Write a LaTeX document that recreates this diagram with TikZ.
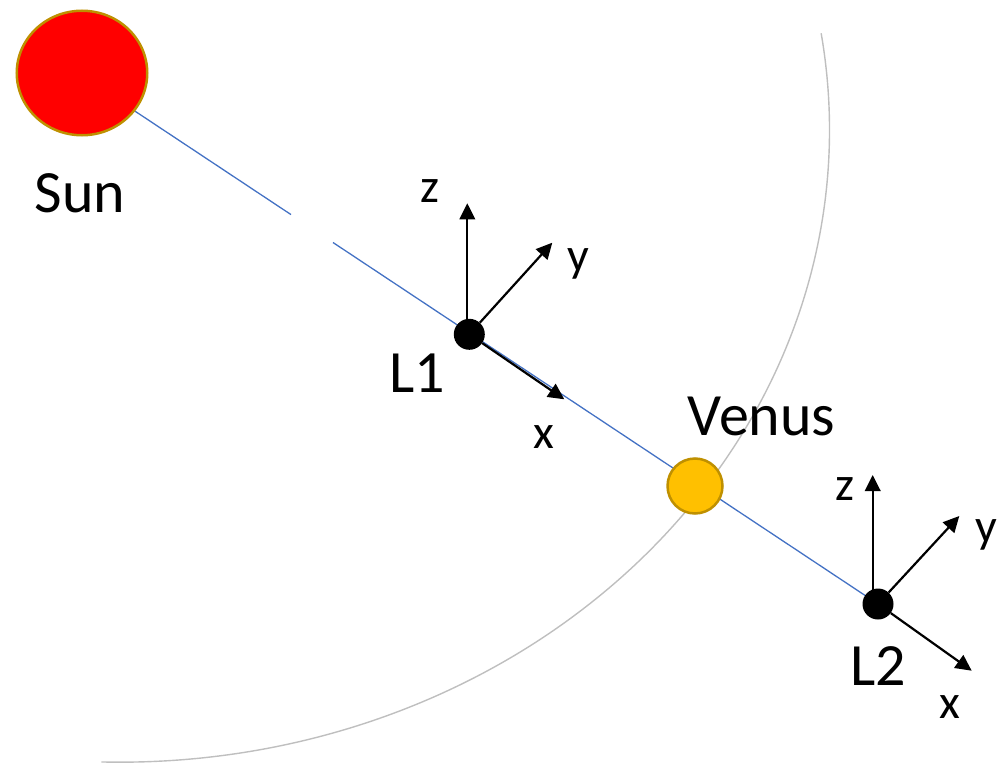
\documentclass[tikz,border=0pt]{standalone}
\usepackage{fontspec}
\setmainfont{Carlito}
\usetikzlibrary{arrows.meta,shapes.geometric,backgrounds}
\definecolor{sunred}{RGB}{255,0,0}
\definecolor{gold}{RGB}{191,144,0}
\definecolor{venusyellow}{RGB}{255,192,0}
\definecolor{lineblue}{RGB}{68,114,196}
\definecolor{orbitgray}{RGB}{191,191,191}
\begin{document}
\begin{tikzpicture}[x=1bp,y=-1bp,
  bigtext/.style={font=\fontsize{60bp}{72bp}\selectfont, inner sep=0pt, anchor=base},
  axislabel/.style={font=\fontsize{48bp}{58bp}\selectfont, inner sep=0pt, anchor=base},
  lpoint/.style={circle, fill=black, inner sep=0pt, minimum size=31bp},
  axisarrow/.style={line width=2.2bp, -{Triangle[length=16bp,width=15.5bp]}},
  orbit/.style={draw=orbitgray, line width=1.4bp},
  sunline/.style={draw=lineblue, line width=1.3bp},
  body/.style={draw=gold, line width=2.5bp, inner sep=0pt}]
\useasboundingbox (0,0) rectangle (998,763);
% bodies and Lagrange points
\node[body, ellipse, fill=sunred, minimum width=130.5bp, minimum height=124.5bp] (sun) at (82,73) {};
\node[body, circle, fill=venusyellow, minimum size=55bp] (venus) at (695,486) {};
\node[lpoint] (L1) at (469.3,334.3) {};
\node[lpoint] (L2) at (878,604) {};
% orbit and Sun-Venus line behind
\begin{scope}[on background layer]
  \coordinate (o0) at (821.15,33.28);
  \draw[orbit] (o0) arc[start angle=-8.8, end angle=91.5, x radius=709.5, y radius=632.2];
  \coordinate (s0) at (82,76);
  \coordinate (g1) at (291,214.6);
  \coordinate (g2) at (333,242.5);
  \draw[sunline] (s0) -- (g1);
  \draw[sunline] (g2) -- (L2.center);
\end{scope}
% axes at L1
\coordinate (z1) at (467.3,203.3);
\coordinate (y1) at (552.3,242.7);
\coordinate (x1) at (564.3,399.3);
\draw[axisarrow] (L1.center -| z1) -- (z1);
\draw[axisarrow] (L1) -- (y1);
\draw[axisarrow] (L1) -- (x1);
% axes at L2
\coordinate (z2) at (872.7,475);
\coordinate (y2) at (959.3,516);
\coordinate (x2) at (971.7,670.7);
\draw[axisarrow] (L2.center -| z2) -- (z2);
\draw[axisarrow] (L2) -- (y2);
\draw[axisarrow] (L2) -- (x2);
% labels
\node[bigtext] (sunlabel) at (80,212) {Sun};
\node[bigtext] (l1label) at (417.5,392.7) {L1};
\node[bigtext] (venuslabel) at (761.7,435) {Venus};
\node[bigtext] (l2label) at (878.5,685) {L2};
\node[axislabel] (z1label) at (430,202.7) {z};
\node[axislabel] (y1label) at (578,271) {y};
\node[axislabel] (x1label) at (543.5,448.3) {x};
\node[axislabel] (z2label) at (845,500.7) {z};
\node[axislabel] (y2label) at (986,542) {y};
\node[axislabel] (x2label) at (950,718) {x};
\end{tikzpicture}
\end{document}
